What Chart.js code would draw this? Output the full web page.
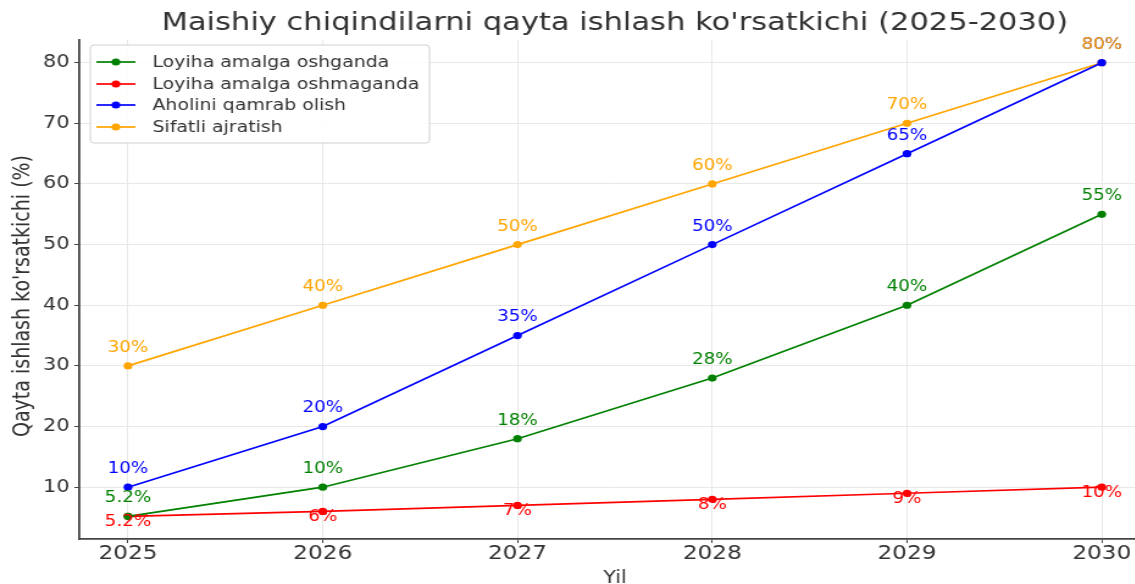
<!DOCTYPE html>
<html>
<head>
<meta charset="utf-8">
<script src="https://cdn.jsdelivr.net/npm/chart.js@4.4.1/dist/chart.umd.min.js"></script>
<style>
  html, body { margin: 0; padding: 0; background: #fff; overflow: hidden; width: 1135px; height: 584px; }
  #wrap { position: absolute; left: 0; top: 0; width: 947px; height: 584px; transform: scaleX(1.22); transform-origin: 0 0; }
  canvas { display: block; }
</style>
</head>
<body>
<div id="wrap"><canvas id="c" width="947" height="584"></canvas></div>
<script>
const titleText = "Maishiy chiqindilarni qayta ishlash ko'rsatkichi (2025-2030)";
const xTitle = "Yil";
const yTitle = "Qayta ishlash ko'rsatkichi (%)";
const years = [2025, 2026, 2027, 2028, 2029, 2030];
const yTicks = [10, 20, 30, 40, 50, 60, 70, 80];
const seriesNames = ["Loyiha amalga oshganda", "Loyiha amalga oshmaganda", "Aholini qamrab olish", "Sifatli ajratish"];
const withProject = [5.2, 10, 18, 28, 40, 55];
const withoutProject = [5.2, 6, 7, 8, 9, 10];
const coverage = [10, 20, 35, 50, 65, 80];
const sorting = [30, 40, 50, 60, 70, 80];
const labelsWith = ["5.2%", "10%", "18%", "28%", "40%", "55%"];
const labelsWithout = ["5.2%", "6%", "7%", "8%", "9%", "10%"];
const labelsCoverage = ["10%", "20%", "35%", "50%", "65%", "80%"];
const labelsSorting = ["30%", "40%", "50%", "60%", "70%", "80%"];

const colors = ["#008000", "#ff0000", "#0000ff", "#ffa500"];
const FONT = "'DejaVu Sans', sans-serif";

function mk(name, vals, color, labels, below) {
  return {
    label: name,
    data: years.map((x, i) => ({ x: x, y: vals[i] })),
    borderColor: color,
    backgroundColor: color,
    pointBackgroundColor: color,
    pointBorderColor: color,
    pointRadius: 3.6,
    pointBorderWidth: 0,
    borderWidth: 1.7,
    tension: 0,
    fill: false,
    valueLabels: labels,
    labelBelow: below
  };
}

const datasets = [
  mk(seriesNames[0], withProject, colors[0], labelsWith, false),
  mk(seriesNames[1], withoutProject, colors[1], labelsWithout, true),
  mk(seriesNames[2], coverage, colors[2], labelsCoverage, false),
  mk(seriesNames[3], sorting, colors[3], labelsSorting, false)
];

const decor = {
  id: 'decor',
  afterDatasetsDraw(chart) {
    const ctx = chart.ctx;
    ctx.save();
    ctx.font = "15px " + FONT;
    ctx.textAlign = 'center';
    ctx.textBaseline = 'middle';
    chart.data.datasets.forEach((ds, di) => {
      const meta = chart.getDatasetMeta(di);
      meta.data.forEach((pt, i) => {
        ctx.fillStyle = ds.borderColor;
        const dy = ds.labelBelow ? 6 : -18;
        ctx.fillText(ds.valueLabels[i], pt.x, pt.y + dy);
      });
    });
    ctx.restore();
  },
  afterDraw(chart) {
    const ctx = chart.ctx;
    const a = chart.chartArea;
    ctx.save();
    // title
    ctx.fillStyle = '#333';
    ctx.font = "25px " + FONT;
    ctx.textAlign = 'center';
    ctx.textBaseline = 'alphabetic';
    ctx.fillText(titleText, (a.left + a.right) / 2, 30);
    // x title
    ctx.font = "17px " + FONT;
    ctx.fillText(xTitle, (a.left + a.right) / 2, 583);
    // y title
    ctx.save();
    ctx.translate(19, 296);
    ctx.rotate(-Math.PI / 2);
    ctx.textBaseline = 'middle';
    ctx.font = "19px " + FONT;
    ctx.fillText(yTitle, 0, 0);
    ctx.restore();
    // legend
    const bx = 74, by = 45, bw = 278, bh = 98;
    ctx.beginPath();
    if (ctx.roundRect) ctx.roundRect(bx, by, bw, bh, 3); else ctx.rect(bx, by, bw, bh);
    ctx.fillStyle = 'rgba(255,255,255,0.85)';
    ctx.fill();
    ctx.strokeStyle = '#d0d0d0';
    ctx.lineWidth = 1;
    ctx.stroke();
    const rows = [62, 84, 105, 127];
    ctx.font = "15.5px " + FONT;
    ctx.textAlign = 'left';
    ctx.textBaseline = 'middle';
    chart.data.datasets.forEach((ds, i) => {
      const y = rows[i];
      ctx.strokeStyle = ds.borderColor;
      ctx.lineWidth = 1.7;
      ctx.beginPath();
      ctx.moveTo(79, y);
      ctx.lineTo(111, y);
      ctx.stroke();
      ctx.fillStyle = ds.borderColor;
      ctx.beginPath();
      ctx.arc(95, y, 3.6, 0, Math.PI * 2);
      ctx.fill();
      ctx.fillStyle = '#333';
      ctx.fillText(ds.label, 125, y + 1);
    });
    ctx.restore();
  }
};

new Chart(document.getElementById('c'), {
  type: 'line',
  data: { datasets: datasets },
  options: {
    responsive: false,
    animation: false,
    layout: { padding: { top: 40, right: 1, left: 0, bottom: 0 } },
    plugins: { legend: { display: false }, tooltip: { enabled: false }, title: { display: false } },
    scales: {
      x: {
        type: 'linear',
        min: 2024.75,
        max: 2030.25,
        afterBuildTicks(s) { s.ticks = years.map(v => ({ value: v })); },
        afterFit(s) { s.height = 45; },
        ticks: { font: { family: FONT, size: 19 }, color: '#333', padding: 0, maxRotation: 0, callback: v => String(v) },
        grid: { color: '#e8e8e8', lineWidth: 1, tickColor: '#444', tickLength: 4 },
        border: { display: true, color: '#444', width: 1.8 }
      },
      y: {
        min: 1.46,
        max: 83.74,
        afterBuildTicks(s) { s.ticks = yTicks.map(v => ({ value: v })); },
        afterFit(s) { s.width = 65; },
        ticks: { font: { family: FONT, size: 17 }, color: '#333', padding: 4, callback: v => String(v) },
        grid: { color: '#e8e8e8', lineWidth: 1, tickColor: '#444', tickLength: 4 },
        border: { display: true, color: '#444', width: 1.8 }
      }
    }
  },
  plugins: [decor]
});
</script>
</body>
</html>
